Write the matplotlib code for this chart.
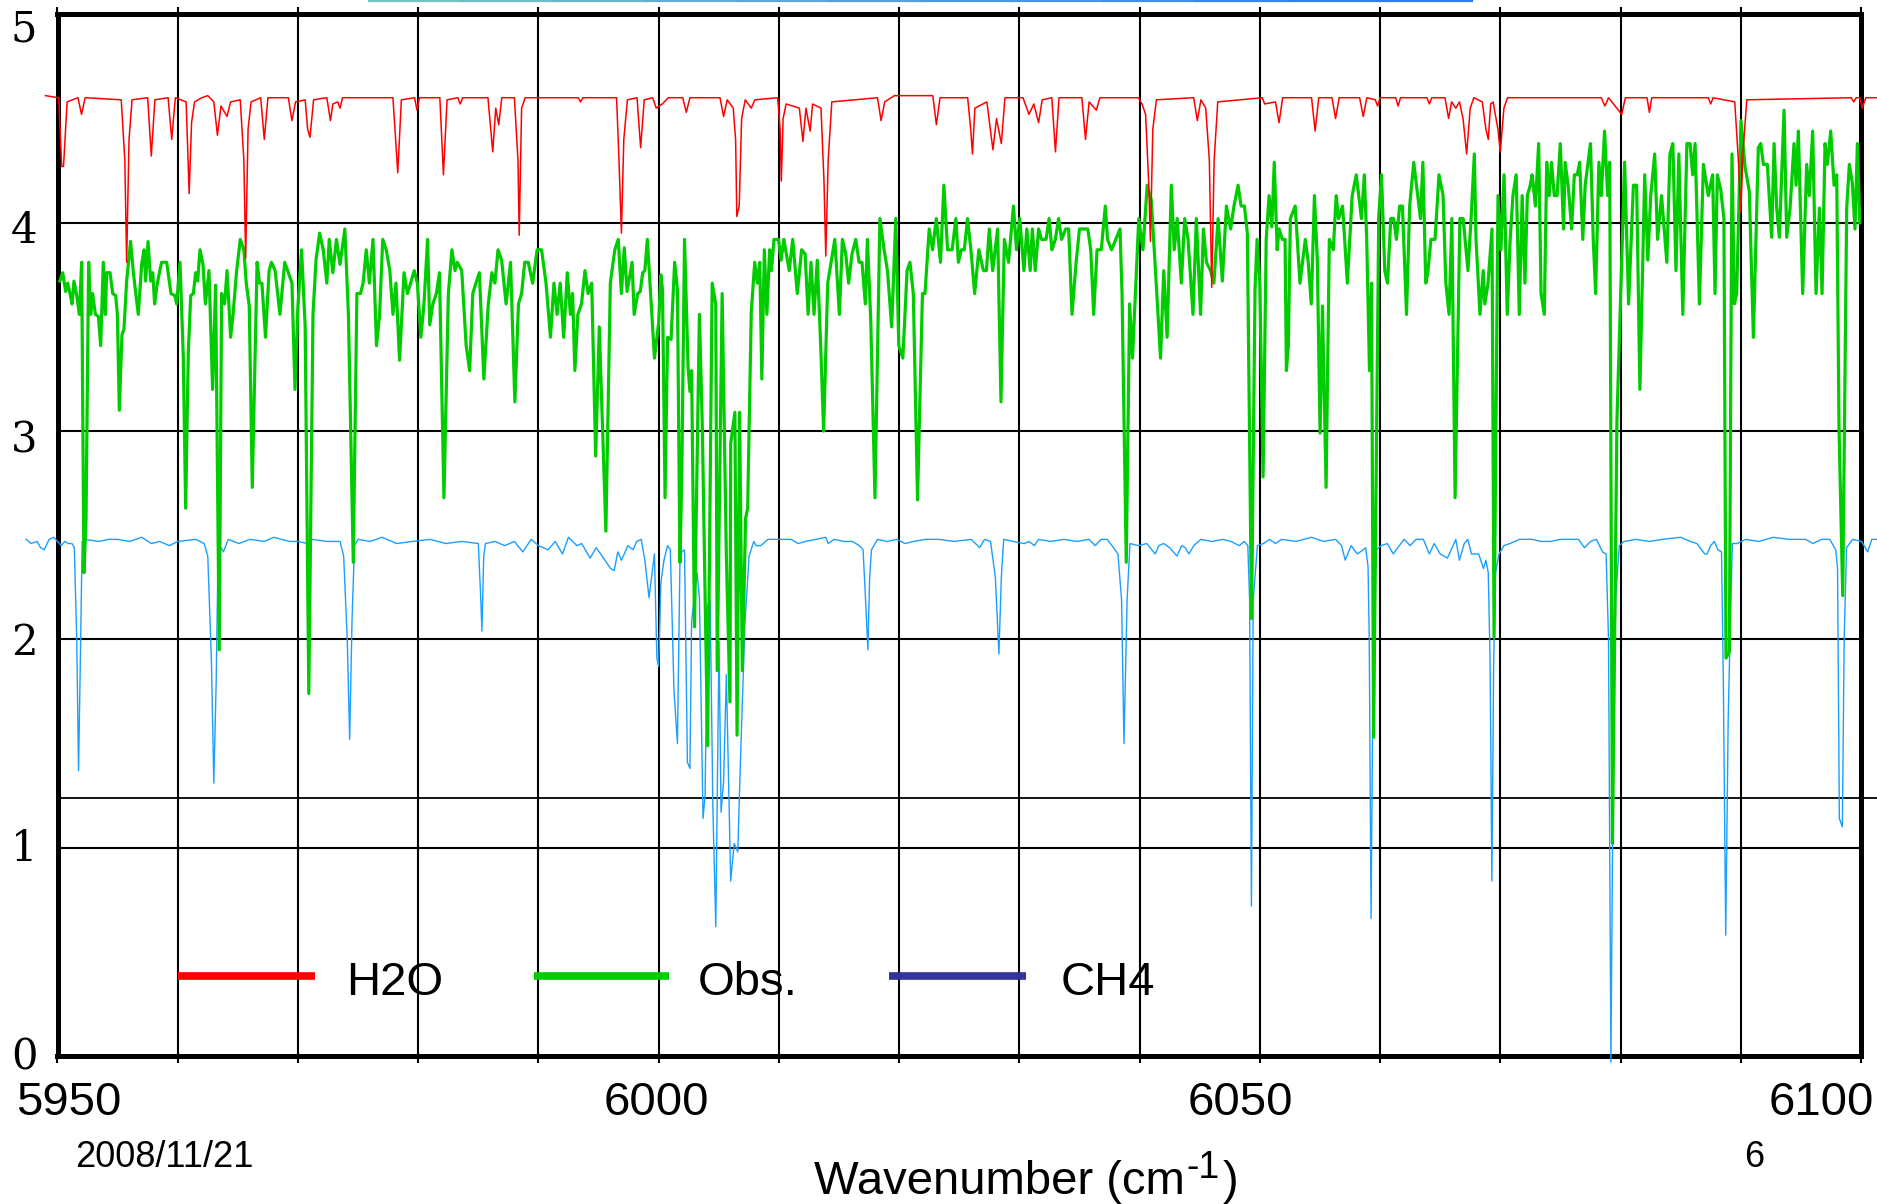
import matplotlib
matplotlib.use("Agg")
import matplotlib.pyplot as plt
from matplotlib.lines import Line2D
import numpy as np

# ---------------- data ----------------
X_TICKS = [5950, 6000, 6050, 6100]
Y_TICKS = [0, 1, 2, 3, 4, 5]
SERIES_NAMES = ["H2O", "Obs.", "CH4"]

H2O_POINTS = [
    (5949.0, 4.61), (5950.1, 4.60), (5950.35, 4.27), (5950.5, 4.27), (5950.8, 4.58), (5951.7, 4.60),
    (5952.0, 4.52), (5952.3, 4.60), (5955.3, 4.59), (5955.6, 4.30), (5955.75, 3.81), (5955.95, 4.40),
    (5956.2, 4.59), (5957.5, 4.60), (5957.8, 4.32), (5958.1, 4.59), (5959.2, 4.60), (5959.5, 4.40),
    (5959.8, 4.60), (5960.7, 4.58), (5960.95, 4.14), (5961.15, 4.48), (5961.4, 4.58), (5962.0, 4.60),
    (5962.5, 4.61), (5963.0, 4.58), (5963.3, 4.42), (5963.6, 4.56), (5964.1, 4.51), (5964.4, 4.58),
    (5965.2, 4.59), (5965.5, 4.30), (5965.65, 3.83), (5965.85, 4.45), (5966.1, 4.58), (5966.9, 4.60),
    (5967.2, 4.40), (5967.5, 4.60), (5969.2, 4.60), (5969.5, 4.49), (5969.8, 4.58), (5970.6, 4.59),
    (5970.8, 4.45), (5971.0, 4.41), (5971.3, 4.59), (5972.4, 4.60), (5972.7, 4.49), (5972.9, 4.57),
    (5973.3, 4.58), (5973.5, 4.55), (5973.7, 4.60), (5977.9, 4.60), (5978.3, 4.24), (5978.6, 4.59),
    (5979.7, 4.60), (5979.9, 4.54), (5980.1, 4.60), (5981.8, 4.60), (5982.1, 4.23), (5982.4, 4.59),
    (5983.3, 4.60), (5983.5, 4.57), (5983.7, 4.60), (5985.8, 4.60), (5986.2, 4.34), (5986.45, 4.55),
    (5986.7, 4.47), (5986.95, 4.60), (5988.0, 4.60), (5988.3, 4.30), (5988.4, 3.94), (5988.6, 4.55),
    (5988.9, 4.60), (5993.3, 4.60), (5993.5, 4.58), (5993.7, 4.60), (5996.5, 4.60), (5996.7, 4.30),
    (5996.9, 3.95), (5997.1, 4.40), (5997.4, 4.59), (5998.2, 4.60), (5998.5, 4.36), (5998.8, 4.59),
    (5999.5, 4.60), (5999.8, 4.55), (6000.3, 4.57), (6000.8, 4.60), (6002.0, 4.60), (6002.3, 4.53),
    (6002.6, 4.60), (6005.1, 4.60), (6005.4, 4.51), (6005.7, 4.59), (6006.2, 4.55), (6006.4, 4.40),
    (6006.5, 4.03), (6006.7, 4.08), (6006.9, 4.50), (6007.2, 4.59), (6007.7, 4.55), (6008.0, 4.59),
    (6009.9, 4.60), (6010.1, 4.45), (6010.2, 4.20), (6010.35, 4.50), (6010.6, 4.57), (6011.7, 4.55),
    (6012.0, 4.39), (6012.25, 4.55), (6012.6, 4.44), (6012.8, 4.57), (6013.5, 4.55), (6013.75, 4.20),
    (6013.9, 3.84), (6014.1, 4.30), (6014.4, 4.58), (6018.2, 4.60), (6018.5, 4.49), (6018.8, 4.58),
    (6019.6, 4.61), (6022.8, 4.61), (6023.1, 4.47), (6023.4, 4.60), (6025.7, 4.60), (6025.95, 4.45),
    (6026.1, 4.33), (6026.3, 4.55), (6027.3, 4.58), (6027.8, 4.35), (6028.1, 4.50), (6028.5, 4.38),
    (6028.8, 4.60), (6030.3, 4.60), (6030.8, 4.52), (6031.2, 4.57), (6031.6, 4.48), (6031.9, 4.59),
    (6032.7, 4.60), (6033.0, 4.34), (6033.3, 4.60), (6035.2, 4.60), (6035.5, 4.40), (6035.8, 4.58),
    (6036.4, 4.54), (6036.7, 4.60), (6039.9, 4.60), (6040.2, 4.57), (6040.5, 4.52), (6040.75, 4.20),
    (6040.9, 3.91), (6041.1, 4.45), (6041.4, 4.59), (6044.5, 4.60), (6044.8, 4.49), (6045.1, 4.59),
    (6045.5, 4.55), (6045.8, 4.30), (6046.0, 3.69), (6046.2, 4.30), (6046.5, 4.58), (6050.2, 4.60),
    (6050.4, 4.57), (6051.3, 4.58), (6051.6, 4.48), (6051.9, 4.60), (6054.3, 4.60), (6054.6, 4.44),
    (6054.9, 4.60), (6056.0, 4.60), (6056.3, 4.50), (6056.6, 4.60), (6058.3, 4.60), (6058.6, 4.51),
    (6058.9, 4.60), (6059.6, 4.59), (6059.8, 4.56), (6060.0, 4.60), (6061.3, 4.60), (6061.5, 4.56),
    (6061.7, 4.60), (6063.9, 4.60), (6064.1, 4.57), (6064.3, 4.60), (6065.4, 4.60), (6065.7, 4.50),
    (6065.95, 4.58), (6066.3, 4.55), (6066.6, 4.58), (6066.9, 4.50), (6067.2, 4.33), (6067.5, 4.55),
    (6067.8, 4.60), (6068.5, 4.58), (6068.8, 4.45), (6069.0, 4.40), (6069.2, 4.57), (6069.4, 4.58),
    (6069.8, 4.45), (6070.0, 4.34), (6070.3, 4.55), (6070.6, 4.60), (6078.4, 4.60), (6078.7, 4.56),
    (6079.0, 4.60), (6080.1, 4.52), (6080.4, 4.60), (6082.2, 4.60), (6082.4, 4.53), (6082.6, 4.60),
    (6087.3, 4.60), (6087.5, 4.57), (6087.7, 4.60), (6089.5, 4.58), (6089.8, 4.30), (6090.0, 4.05),
    (6090.2, 4.35), (6090.5, 4.59), (6099.2, 4.60), (6099.4, 4.58), (6099.6, 4.60), (6099.9, 4.60),
    (6100.1, 4.55), (6100.4, 4.60), (6101.3, 4.60),
]

OBS_POINTS = [
    (5950.2, 3.72), (5950.43, 3.76), (5950.68, 3.67), (5950.85, 3.71), (5951.04, 3.66), (5951.21, 3.61),
    (5951.37, 3.72), (5951.6, 3.65), (5951.82, 3.56), (5952.01, 3.81), (5952.2, 2.32), (5952.37, 2.57),
    (5952.59, 3.81), (5952.76, 3.56), (5952.92, 3.66), (5953.15, 3.56), (5953.4, 3.55), (5953.59, 3.41),
    (5953.81, 3.81), (5953.98, 3.56), (5954.09, 3.76), (5954.37, 3.76), (5954.59, 3.66), (5954.84, 3.65),
    (5954.98, 3.56), (5955.14, 3.10), (5955.36, 3.46), (5955.53, 3.49), (5955.75, 3.72), (5956.08, 3.91),
    (5956.31, 3.76), (5956.53, 3.65), (5956.72, 3.56), (5957.0, 3.80), (5957.2, 3.87), (5957.33, 3.72),
    (5957.53, 3.91), (5957.75, 3.72), (5957.92, 3.76), (5958.08, 3.61), (5958.25, 3.69), (5958.47, 3.76),
    (5958.66, 3.81), (5959.08, 3.81), (5959.44, 3.66), (5959.77, 3.65), (5959.91, 3.61), (5960.19, 3.81),
    (5960.46, 3.36), (5960.66, 2.63), (5960.88, 3.38), (5961.08, 3.65), (5961.3, 3.66), (5961.49, 3.76),
    (5961.66, 3.72), (5961.85, 3.87), (5962.1, 3.80), (5962.3, 3.61), (5962.6, 3.77), (5962.9, 3.20),
    (5963.15, 3.70), (5963.45, 1.95), (5963.65, 3.66), (5963.9, 3.61), (5964.1, 3.77), (5964.4, 3.45),
    (5964.6, 3.56), (5964.9, 3.77), (5965.2, 3.92), (5965.5, 3.87), (5965.7, 3.71), (5965.95, 3.60),
    (5966.2, 2.73), (5966.6, 3.81), (5966.8, 3.71), (5967.0, 3.71), (5967.3, 3.45), (5967.6, 3.77),
    (5967.8, 3.81), (5968.1, 3.77), (5968.5, 3.56), (5968.9, 3.81), (5969.2, 3.76), (5969.5, 3.71),
    (5969.75, 3.20), (5970.0, 3.60), (5970.3, 3.87), (5970.6, 3.50), (5970.9, 1.74), (5971.25, 3.56),
    (5971.5, 3.82), (5971.8, 3.95), (5972.1, 3.87), (5972.4, 3.71), (5972.6, 3.92), (5972.9, 3.76),
    (5973.2, 3.92), (5973.5, 3.80), (5973.9, 3.97), (5974.2, 3.55), (5974.6, 2.37), (5974.9, 3.66),
    (5975.2, 3.66), (5975.42, 3.71), (5975.68, 3.87), (5975.94, 3.71), (5976.24, 3.92), (5976.53, 3.41),
    (5976.79, 3.56), (5977.05, 3.92), (5977.34, 3.87), (5977.64, 3.77), (5977.9, 3.56), (5978.15, 3.71),
    (5978.45, 3.34), (5978.82, 3.76), (5979.11, 3.66), (5979.37, 3.71), (5979.67, 3.77), (5979.93, 3.71),
    (5980.22, 3.45), (5980.48, 3.61), (5980.78, 3.92), (5980.96, 3.51), (5981.22, 3.61), (5981.51, 3.66),
    (5981.77, 3.76), (5982.14, 2.68), (5982.51, 3.66), (5982.8, 3.87), (5983.06, 3.77), (5983.25, 3.81),
    (5983.62, 3.77), (5983.99, 3.41), (5984.28, 3.29), (5984.54, 3.66), (5984.8, 3.71), (5985.09, 3.76),
    (5985.46, 3.25), (5985.83, 3.61), (5986.13, 3.76), (5986.38, 3.71), (5986.64, 3.87), (5986.94, 3.82),
    (5987.31, 3.61), (5987.68, 3.81), (5988.04, 3.14), (5988.34, 3.61), (5988.6, 3.66), (5988.86, 3.81),
    (5989.15, 3.81), (5989.52, 3.71), (5989.89, 3.87), (5990.26, 3.87), (5990.63, 3.71), (5991.0, 3.45),
    (5991.29, 3.71), (5991.55, 3.56), (5991.81, 3.71), (5992.1, 3.45), (5992.4, 3.76), (5992.66, 3.56),
    (5992.84, 3.66), (5993.03, 3.29), (5993.28, 3.56), (5993.58, 3.61), (5993.87, 3.77), (5994.13, 3.66),
    (5994.43, 3.71), (5994.76, 2.88), (5995.06, 3.50), (5995.61, 2.52), (5995.98, 3.71), (5996.35, 3.87),
    (5996.64, 3.92), (5996.9, 3.66), (5997.14, 3.88), (5997.37, 3.67), (5997.79, 3.81), (5997.96, 3.56),
    (5998.26, 3.66), (5998.47, 3.67), (5998.67, 3.76), (5998.85, 3.77), (5999.06, 3.92), (5999.65, 3.35),
    (6000.0, 3.52), (6000.18, 3.75), (6000.32, 3.68), (6000.53, 2.68), (6000.74, 3.45), (6001.03, 3.44),
    (6001.33, 3.81), (6001.56, 3.68), (6001.77, 2.37), (6001.92, 2.77), (6002.15, 3.92), (6002.45, 3.30),
    (6002.6, 3.19), (6002.74, 3.29), (6002.98, 2.06), (6003.39, 3.56), (6003.63, 3.02), (6004.07, 1.49),
    (6004.45, 3.71), (6004.75, 3.61), (6004.87, 1.85), (6005.28, 3.66), (6005.63, 2.40), (6005.93, 1.70),
    (6005.99, 2.94), (6006.34, 3.09), (6006.52, 1.54), (6006.73, 3.09), (6006.96, 1.85), (6007.23, 2.58),
    (6007.4, 2.63), (6007.7, 3.57), (6007.99, 3.81), (6008.2, 3.71), (6008.41, 3.81), (6008.58, 3.25),
    (6008.79, 3.87), (6009.0, 3.56), (6009.23, 3.87), (6009.38, 3.77), (6009.59, 3.92), (6009.97, 3.92),
    (6010.18, 3.82), (6010.41, 3.92), (6010.62, 3.85), (6010.86, 3.77), (6011.15, 3.92), (6011.53, 3.66),
    (6011.89, 3.87), (6012.18, 3.85), (6012.43, 3.56), (6012.67, 3.81), (6012.92, 3.56), (6013.19, 3.82),
    (6013.47, 3.42), (6013.72, 3.00), (6014.06, 3.71), (6014.34, 3.81), (6014.65, 3.92), (6015.03, 3.56),
    (6015.28, 3.92), (6015.56, 3.85), (6015.8, 3.71), (6016.08, 3.85), (6016.39, 3.92), (6016.67, 3.81),
    (6016.91, 3.81), (6017.19, 3.61), (6017.36, 3.92), (6017.64, 3.53), (6017.99, 2.68), (6018.4, 4.02),
    (6018.75, 3.87), (6019.03, 3.77), (6019.38, 3.50), (6019.72, 4.02), (6019.97, 3.41), (6020.31, 3.35),
    (6020.66, 3.77), (6020.9, 3.81), (6021.18, 3.66), (6021.53, 2.67), (6021.94, 3.66), (6022.15, 3.66),
    (6022.5, 3.97), (6022.78, 3.87), (6023.09, 4.02), (6023.44, 3.81), (6023.72, 4.18), (6024.03, 3.87),
    (6024.41, 3.87), (6024.72, 4.02), (6024.93, 3.81), (6025.17, 3.87), (6025.42, 3.87), (6025.69, 4.02),
    (6025.97, 3.87), (6026.28, 3.66), (6026.63, 3.87), (6027.01, 3.77), (6027.26, 3.77), (6027.5, 3.97),
    (6027.78, 3.77), (6028.19, 3.97), (6028.47, 3.14), (6028.75, 3.92), (6029.1, 3.81), (6029.51, 4.08),
    (6029.76, 3.87), (6030.03, 4.02), (6030.38, 3.77), (6030.62, 3.97), (6030.9, 3.77), (6031.08, 3.97),
    (6031.32, 3.77), (6031.6, 3.97), (6031.84, 3.92), (6032.22, 3.92), (6032.47, 4.02), (6032.71, 3.87),
    (6032.99, 3.92), (6033.26, 4.02), (6033.51, 3.92), (6033.85, 3.97), (6034.1, 3.97), (6034.38, 3.56),
    (6034.72, 3.81), (6035.0, 3.97), (6035.69, 3.97), (6035.94, 3.87), (6036.18, 3.56), (6036.46, 3.87),
    (6036.81, 3.87), (6037.15, 4.08), (6037.33, 3.92), (6037.67, 3.87), (6038.02, 3.92), (6038.37, 3.97),
    (6038.54, 3.66), (6038.89, 2.37), (6039.17, 3.61), (6039.41, 3.35), (6039.65, 3.66), (6039.93, 4.02),
    (6040.28, 3.87), (6040.63, 4.18), (6040.97, 4.11), (6041.32, 3.77), (6041.74, 3.35), (6042.01, 3.77),
    (6042.29, 3.45), (6042.64, 4.18), (6042.88, 3.87), (6043.13, 4.02), (6043.47, 3.71), (6043.75, 4.02),
    (6044.03, 3.92), (6044.44, 3.56), (6044.72, 4.02), (6045.07, 3.56), (6045.31, 3.97), (6045.56, 3.81),
    (6045.9, 3.77), (6046.18, 3.71), (6046.53, 4.02), (6046.88, 3.72), (6047.22, 4.08), (6047.57, 3.97),
    (6047.85, 4.08), (6048.19, 4.18), (6048.44, 4.08), (6048.72, 4.08), (6048.96, 3.95), (6049.31, 2.10),
    (6049.6, 3.68), (6049.77, 3.92), (6050.0, 3.71), (6050.27, 2.78), (6050.53, 3.92), (6050.77, 4.13),
    (6051.0, 3.98), (6051.2, 4.29), (6051.44, 3.87), (6051.6, 3.97), (6051.87, 3.92), (6052.1, 3.92),
    (6052.21, 3.29), (6052.37, 3.41), (6052.54, 4.02), (6052.94, 4.08), (6053.34, 3.71), (6053.78, 3.92),
    (6054.01, 3.82), (6054.28, 3.61), (6054.54, 4.13), (6054.78, 3.82), (6055.01, 2.99), (6055.21, 3.60),
    (6055.51, 2.73), (6055.78, 3.92), (6056.11, 3.87), (6056.35, 4.13), (6056.55, 4.02), (6056.88, 4.08),
    (6057.28, 3.71), (6057.68, 4.13), (6058.02, 4.23), (6058.45, 4.02), (6058.69, 4.23), (6058.89, 3.92),
    (6059.12, 3.29), (6059.29, 3.71), (6059.46, 1.53), (6059.89, 4.03), (6060.12, 4.23), (6060.39, 3.77),
    (6060.62, 3.71), (6060.89, 4.02), (6061.13, 4.02), (6061.36, 3.92), (6061.63, 4.08), (6061.86, 4.08),
    (6062.2, 3.56), (6062.46, 4.08), (6062.8, 4.29), (6063.13, 4.13), (6063.36, 4.02), (6063.56, 4.29),
    (6063.8, 3.71), (6063.97, 3.76), (6064.23, 3.92), (6064.57, 3.92), (6064.9, 4.23), (6065.24, 4.13),
    (6065.47, 3.71), (6065.74, 3.56), (6065.97, 4.02), (6066.24, 2.68), (6066.64, 4.02), (6066.91, 4.02),
    (6067.31, 3.77), (6067.57, 4.02), (6067.84, 4.33), (6067.98, 3.92), (6068.31, 3.56), (6068.58, 3.77),
    (6068.71, 3.61), (6068.98, 3.71), (6069.31, 3.97), (6069.48, 2.01), (6069.81, 4.13), (6070.05, 3.87),
    (6070.31, 4.23), (6070.58, 3.56), (6070.82, 3.92), (6071.05, 4.13), (6071.32, 4.23), (6071.58, 3.56),
    (6071.82, 4.13), (6072.05, 3.71), (6072.25, 4.13), (6072.49, 4.18), (6072.65, 4.23), (6072.92, 4.08),
    (6073.19, 4.38), (6073.39, 3.66), (6073.66, 3.56), (6073.86, 4.29), (6074.06, 4.13), (6074.26, 4.29),
    (6074.49, 4.13), (6074.72, 4.13), (6074.99, 4.38), (6075.26, 3.97), (6075.39, 4.29), (6075.66, 4.17),
    (6075.93, 3.97), (6076.16, 4.23), (6076.4, 4.23), (6076.6, 4.29), (6076.86, 3.92), (6077.06, 4.18),
    (6077.5, 4.38), (6077.73, 3.92), (6077.93, 3.66), (6078.2, 4.29), (6078.4, 4.13), (6078.67, 4.44),
    (6078.93, 4.13), (6079.1, 4.29), (6079.33, 1.02), (6079.7, 3.05), (6080.34, 4.29), (6080.67, 3.61),
    (6081.07, 4.18), (6081.34, 4.18), (6081.61, 3.20), (6082.01, 4.23), (6082.27, 3.82), (6082.51, 4.13),
    (6082.84, 4.33), (6083.08, 3.92), (6083.41, 4.13), (6083.85, 3.81), (6084.11, 4.33), (6084.35, 4.38),
    (6084.61, 3.77), (6084.85, 4.33), (6085.18, 3.56), (6085.52, 4.38), (6085.78, 4.38), (6086.0, 4.23),
    (6086.2, 4.38), (6086.56, 3.61), (6086.89, 4.28), (6087.3, 4.13), (6087.66, 4.23), (6087.86, 3.66),
    (6088.05, 4.23), (6088.33, 4.16), (6088.6, 4.02), (6088.77, 1.91), (6089.05, 1.94), (6089.27, 4.33),
    (6089.47, 3.61), (6089.66, 3.66), (6090.02, 4.49), (6090.35, 4.27), (6090.71, 4.15), (6091.05, 3.45),
    (6091.46, 4.36), (6091.66, 4.38), (6091.88, 4.28), (6092.21, 4.28), (6092.57, 3.93), (6092.77, 4.38),
    (6092.99, 4.07), (6093.21, 3.93), (6093.6, 4.54), (6093.82, 3.93), (6094.1, 4.07), (6094.43, 4.38),
    (6094.6, 4.18), (6094.79, 4.44), (6095.15, 3.66), (6095.48, 4.28), (6095.7, 4.13), (6095.98, 4.44),
    (6096.26, 3.66), (6096.54, 4.07), (6096.76, 3.66), (6097.01, 4.38), (6097.2, 4.28), (6097.48, 4.44),
    (6097.76, 4.18), (6097.98, 4.23), (6098.17, 3.02), (6098.48, 2.21), (6098.81, 4.07), (6099.03, 4.28),
    (6099.28, 4.19), (6099.5, 3.97), (6099.7, 4.38), (6099.9, 4.00),
]

CH4_POINTS = [
    (5947.4, 2.48), (5947.8, 2.46), (5948.3, 2.47), (5948.6, 2.44), (5948.9, 2.43), (5949.3, 2.48),
    (5949.7, 2.49), (5950.0, 2.47), (5950.3, 2.45), (5950.6, 2.47), (5950.9, 2.46), (5951.2, 2.46),
    (5951.4, 2.44), (5951.6, 2.00), (5951.75, 1.37), (5951.9, 1.90), (5952.05, 2.47), (5952.3, 2.48),
    (5953.4, 2.47), (5954.3, 2.48), (5955.0, 2.48), (5956.0, 2.47), (5957.0, 2.49), (5957.8, 2.46),
    (5958.5, 2.47), (5959.3, 2.45), (5960.0, 2.47), (5961.5, 2.48), (5962.2, 2.46), (5962.5, 2.40),
    (5962.8, 1.90), (5963.0, 1.31), (5963.2, 1.80), (5963.35, 2.40), (5963.6, 2.44), (5963.8, 2.42),
    (5964.2, 2.48), (5965.1, 2.46), (5966.0, 2.48), (5967.2, 2.47), (5968.0, 2.49), (5969.3, 2.47),
    (5970.0, 2.47), (5970.8, 2.46), (5971.2, 2.48), (5972.4, 2.47), (5973.5, 2.47), (5973.8, 2.40),
    (5974.1, 2.00), (5974.3, 1.52), (5974.5, 2.10), (5974.7, 2.45), (5975.0, 2.48), (5976.0, 2.47),
    (5977.0, 2.49), (5978.2, 2.46), (5979.5, 2.47), (5981.0, 2.48), (5982.3, 2.46), (5983.6, 2.47),
    (5985.0, 2.46), (5985.2, 2.20), (5985.3, 2.04), (5985.45, 2.40), (5985.6, 2.46), (5986.4, 2.47),
    (5987.2, 2.45), (5988.0, 2.47), (5988.7, 2.42), (5989.4, 2.48), (5990.0, 2.45), (5990.8, 2.43),
    (5991.4, 2.47), (5992.0, 2.41), (5992.5, 2.49), (5993.2, 2.45), (5993.6, 2.46), (5994.3, 2.39),
    (5994.8, 2.44), (5995.3, 2.40), (5996.0, 2.34), (5996.3, 2.33), (5996.6, 2.42), (5996.9, 2.38),
    (5997.14, 2.41), (5997.43, 2.45), (5997.88, 2.43), (5998.17, 2.47), (5998.55, 2.48), (5998.85, 2.38),
    (5999.2, 2.20), (5999.65, 2.41), (5999.85, 1.91), (6000.0, 1.87), (6000.18, 2.27), (6000.44, 2.38),
    (6000.74, 2.45), (6000.97, 2.43), (6001.27, 1.76), (6001.56, 1.50), (6001.77, 2.37), (6001.92, 2.42),
    (6002.15, 2.43), (6002.39, 1.41), (6002.6, 1.38), (6002.74, 2.09), (6003.19, 2.32), (6003.39, 2.20),
    (6003.69, 1.14), (6003.86, 1.25), (6004.07, 2.16), (6004.28, 2.19), (6004.51, 1.19), (6004.75, 0.62),
    (6005.02, 1.99), (6005.19, 1.17), (6005.4, 1.32), (6005.63, 1.83), (6005.99, 0.84), (6006.28, 1.02),
    (6006.58, 0.98), (6006.81, 1.43), (6007.17, 2.07), (6007.52, 2.40), (6007.91, 2.47), (6008.11, 2.45),
    (6008.5, 2.45), (6009.09, 2.48), (6009.53, 2.48), (6010.12, 2.48), (6011.0, 2.48), (6011.6, 2.46),
    (6012.2, 2.47), (6013.1, 2.48), (6013.9, 2.49), (6014.1, 2.46), (6014.6, 2.48), (6015.4, 2.47),
    (6016.1, 2.47), (6016.7, 2.45), (6017.0, 2.43), (6017.2, 2.20), (6017.4, 1.95), (6017.55, 2.30),
    (6017.7, 2.43), (6018.2, 2.48), (6019.0, 2.47), (6019.8, 2.48), (6020.5, 2.46), (6021.2, 2.47),
    (6022.2, 2.48), (6023.3, 2.48), (6024.6, 2.47), (6026.0, 2.48), (6026.7, 2.44), (6027.1, 2.48),
    (6027.6, 2.47), (6028.0, 2.30), (6028.3, 1.93), (6028.5, 2.30), (6028.7, 2.48), (6029.5, 2.47),
    (6030.4, 2.46), (6030.8, 2.47), (6031.25, 2.45), (6031.6, 2.48), (6032.6, 2.47), (6033.7, 2.48),
    (6034.8, 2.47), (6035.8, 2.48), (6036.3, 2.45), (6036.8, 2.48), (6037.3, 2.48), (6037.7, 2.45),
    (6038.2, 2.41), (6038.5, 2.19), (6038.7, 1.50), (6038.96, 2.19), (6039.2, 2.46), (6039.9, 2.45),
    (6040.6, 2.46), (6041.3, 2.41), (6041.6, 2.45), (6042.0, 2.46), (6042.5, 2.44), (6043.1, 2.40),
    (6043.5, 2.45), (6043.8, 2.44), (6044.1, 2.41), (6044.5, 2.45), (6045.1, 2.48), (6046.0, 2.47),
    (6046.9, 2.48), (6047.6, 2.47), (6048.3, 2.45), (6048.7, 2.47), (6049.0, 2.45), (6049.15, 2.19),
    (6049.3, 0.72), (6049.45, 2.19), (6049.8, 2.45), (6050.3, 2.46), (6050.8, 2.48), (6051.3, 2.46),
    (6051.8, 2.48), (6053.0, 2.47), (6054.3, 2.49), (6055.3, 2.47), (6056.3, 2.48), (6056.8, 2.45),
    (6057.1, 2.38), (6057.6, 2.45), (6058.1, 2.41), (6058.6, 2.43), (6058.8, 2.44), (6059.0, 2.35),
    (6059.1, 2.00), (6059.25, 0.66), (6059.45, 2.10), (6059.7, 2.43), (6060.1, 2.45), (6060.6, 2.46),
    (6061.1, 2.41), (6061.6, 2.45), (6062.0, 2.48), (6062.5, 2.45), (6063.0, 2.48), (6063.6, 2.48),
    (6064.1, 2.41), (6064.5, 2.46), (6065.0, 2.41), (6065.6, 2.39), (6066.0, 2.44), (6066.3, 2.48),
    (6066.6, 2.38), (6067.0, 2.46), (6067.3, 2.48), (6067.6, 2.41), (6068.2, 2.41), (6068.6, 2.34),
    (6068.8, 2.38), (6069.0, 2.32), (6069.15, 1.90), (6069.3, 0.84), (6069.45, 1.90), (6069.6, 2.32),
    (6069.9, 2.41), (6070.3, 2.45), (6070.8, 2.46), (6071.6, 2.48), (6072.65, 2.48), (6073.4, 2.47),
    (6074.2, 2.47), (6075.0, 2.48), (6075.7, 2.48), (6076.5, 2.48), (6077.0, 2.44), (6077.5, 2.47),
    (6078.0, 2.48), (6078.5, 2.42), (6078.8, 2.41), (6079.0, 2.00), (6079.2, -0.03), (6079.4, 1.50),
    (6079.6, 2.20), (6079.9, 2.45), (6080.3, 2.47), (6081.3, 2.48), (6082.4, 2.47), (6083.5, 2.48),
    (6085.0, 2.49), (6085.8, 2.47), (6086.35, 2.46), (6087.0, 2.41), (6087.2, 2.41), (6087.5, 2.45),
    (6087.8, 2.47), (6088.1, 2.43), (6088.4, 2.42), (6088.55, 1.80), (6088.75, 0.58), (6088.95, 1.60),
    (6089.1, 2.00), (6089.3, 2.46), (6089.7, 2.46), (6090.4, 2.48), (6091.5, 2.47), (6092.7, 2.49),
    (6094.0, 2.48), (6095.4, 2.48), (6096.0, 2.46), (6096.7, 2.48), (6097.4, 2.48), (6097.9, 2.43),
    (6098.05, 2.34), (6098.2, 1.14), (6098.45, 1.10), (6098.6, 2.00), (6098.8, 2.44), (6099.3, 2.48),
    (6100.05, 2.47), (6100.55, 2.42), (6100.9, 2.48), (6101.3, 2.48),
]

h2o_x, h2o_y = zip(*H2O_POINTS)
obs_x, obs_y = zip(*OBS_POINTS)
ch4_x, ch4_y = zip(*CH4_POINTS)

# ---------------- styling ----------------
SANS = ["Liberation Sans", "DejaVu Sans"]
SERIF = ["DejaVu Serif"]

W, H = 1877, 1204
fig = plt.figure(figsize=(W / 100, H / 100), dpi=100)
ax_l, ax_r, ax_t, ax_b = 57.5, 1861, 14.4, 1056
ax = fig.add_axes([ax_l / W, 1 - ax_b / H, (ax_r - ax_l) / W, (ax_b - ax_t) / H])

ax.set_xlim(5950, 6100)
ax.set_ylim(0, 5)

RED, GREEN, BLUE, LEG_BLUE = "#ff0000", "#00cc00", "#1a9fff", "#333399"

ax.plot(ch4_x, ch4_y, color=BLUE, lw=1.0, clip_on=False, zorder=3)
ax.plot(obs_x, obs_y, color=GREEN, lw=2.3, zorder=4)
ax.plot(h2o_x, h2o_y, color=RED, lw=1.1, clip_on=False, zorder=5)

# grid lines at every 10 cm-1 and every unit
ax.set_xticks(range(5950, 6101, 10))
ax.set_yticks(Y_TICKS)
ax.grid(True, color="black", linewidth=1.5)
ax.set_axisbelow(True)
for s in ax.spines.values():
    s.set_linewidth(3.6)
    s.set_color("black")
ax.tick_params(axis="x", direction="out", length=5, width=1.5, top=True, bottom=True,
               labelbottom=False)
ax.tick_params(axis="y", length=0, labelleft=False)

# tick labels placed as in the reference (pixel offsets from the tick positions)
X_LABEL_SHIFT_PX = [11, -2, -19, -40]
for v, dx in zip(X_TICKS, X_LABEL_SHIFT_PX):
    ax.annotate(str(v), xy=(v, 0), xycoords=("data", "axes fraction"),
                xytext=(dx, -25), textcoords="offset pixels", ha="center", va="top",
                fontsize=34, family=SANS, annotation_clip=False)
Y_LABEL_SHIFT_PX = [3, 3, 1, -5, -4, -11]
for v, dy in zip(Y_TICKS, Y_LABEL_SHIFT_PX):
    ax.annotate(str(v), xy=(0, v), xycoords=("axes fraction", "data"),
                xytext=(-33.5, dy), textcoords="offset pixels", ha="center",
                va="center_baseline", fontsize=30, family=SERIF, annotation_clip=False)

# extra horizontal rule running past the right edge
ax.plot([0, 1.01], [1.24, 1.24], transform=ax.get_yaxis_transform(), color="black",
        lw=1.3, clip_on=False, zorder=1)

# legend drawn inside the plot
leg_y = 0.077
leg_items = [(SERIES_NAMES[0], RED, 0.067, 0.143, 0.160),
             (SERIES_NAMES[1], GREEN, 0.264, 0.339, 0.355),
             (SERIES_NAMES[2], LEG_BLUE, 0.461, 0.537, 0.556)]
for name, col, x0, x1, xt in leg_items:
    ax.add_line(Line2D([x0, x1], [leg_y, leg_y], transform=ax.transAxes, color=col,
                       lw=5.5, solid_capstyle="butt", zorder=6))
    ax.text(xt, 0.059, name, transform=ax.transAxes, fontsize=34, family=SANS,
            va="baseline", ha="left", zorder=6)

# axis title with a plain-hyphen superscript
base_y = 0.008
t1 = fig.text(814 / W, base_y, "Wavenumber (cm", ha="left", va="baseline",
              fontsize=34, family=SANS)
fig.canvas.draw()
r = fig.canvas.get_renderer()
bb1 = t1.get_window_extent(r)
t2 = fig.text((bb1.x1 + 2) / W, base_y + 16 / H, "-1", ha="left", va="baseline",
              fontsize=27, family=SANS)
bb2 = t2.get_window_extent(r)
fig.text((bb2.x1 + 3) / W, base_y, ")", ha="left", va="baseline", fontsize=34, family=SANS)

fig.text(0.040, 0.031, "2008/11/21", ha="left", va="baseline", fontsize=26, family=SANS)
fig.text(0.9345, 0.031, "6", ha="center", va="baseline", fontsize=26, family=SANS)

# thin coloured rule at the very top of the picture
c0 = np.array([0x78, 0xc0, 0xc4]) / 255.0
c1 = np.array([0x2f, 0x7b, 0xf0]) / 255.0
xs0, xs1 = 369 / W, 1472 / W
nseg = 12
for i in range(nseg):
    f = i / (nseg - 1)
    col = c0 * (1 - f) + c1 * f
    fig.add_artist(Line2D([xs0 + (xs1 - xs0) * i / nseg, xs0 + (xs1 - xs0) * (i + 1) / nseg],
                          [1 - 1.0 / H, 1 - 1.0 / H], color=col, lw=1.6))

fig.savefig("out.png", dpi=100, facecolor="white")
